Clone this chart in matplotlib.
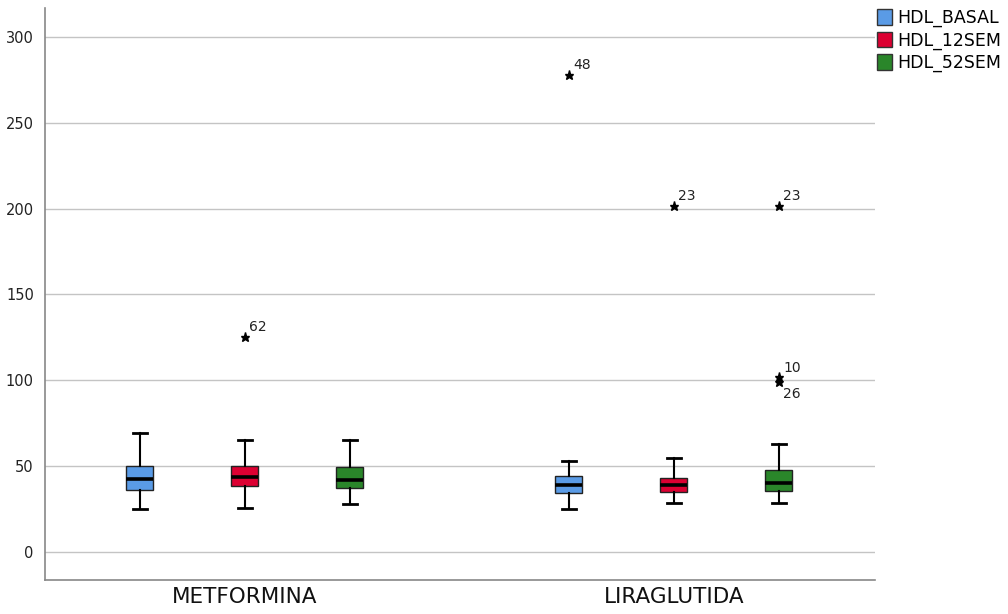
import matplotlib.pyplot as plt
from matplotlib.patches import Patch

groups = ["METFORMINA", "LIRAGLUTIDA"]
series = ["HDL_BASAL", "HDL_12SEM", "HDL_52SEM"]
colors = ["#5a9be6", "#dc0032", "#2a862a"]

# box stats per group, per series (BASAL, 12SEM, 52SEM)
whislo = [[25, 25.3, 28], [25, 28.2, 28.2]]
q1 = [[36, 38, 37], [34.3, 35, 35.4]]
med = [[42.3, 43.4, 42], [38.7, 39, 40]]
q3 = [[50, 50, 49.4], [44, 42.8, 47.7]]
whishi = [[69, 65, 65], [52.7, 54.5, 62.6]]

# outliers: (value, case label)
fliers = [
    [[], [(125, "62")], []],
    [[(278, "48")], [(201.4, "23")], [(201.4, "23"), (101.6, "10"), (99, "26")]],
]

offsets = [-0.245, 0, 0.245]

fig = plt.figure(figsize=(10.08, 6.14), dpi=100)
ax = fig.add_axes([0.0446, 0.0554, 0.8234, 0.9316])

for gi in range(len(groups)):
    for si in range(len(series)):
        pos = gi + 1 + offsets[si]
        stats = [{
            "whislo": whislo[gi][si], "q1": q1[gi][si], "med": med[gi][si],
            "q3": q3[gi][si], "whishi": whishi[gi][si], "fliers": [],
        }]
        ax.bxp(stats, positions=[pos], widths=0.063, capwidths=0.032,
               patch_artist=True, showfliers=False, manage_ticks=False,
               boxprops=dict(facecolor=colors[si], edgecolor="#222222", linewidth=1),
               medianprops=dict(color="black", linewidth=2.6),
               whiskerprops=dict(color="black", linewidth=1.5),
               capprops=dict(color="black", linewidth=2))
        for val, lab in fliers[gi][si]:
            ax.plot(pos, val, marker="*", color="black", markersize=6.5, linestyle="none")
            if lab == "26":
                ax.annotate(lab, (pos, val), xytext=(3, -4), textcoords="offset points",
                            ha="left", va="top", fontsize=10, color="#222222")
            else:
                ax.annotate(lab, (pos, val), xytext=(3, 2), textcoords="offset points",
                            ha="left", va="bottom", fontsize=10, color="#222222")

ax.set_xlim(0.534, 2.469)
ax.set_ylim(-16.6, 317)
ax.set_yticks([0, 50, 100, 150, 200, 250, 300])
ax.set_xticks([1, 2])
ax.set_xticklabels(groups, fontsize=15.5, color="#111111")
ax.tick_params(axis="y", length=0, labelsize=10.5, labelcolor="#222222", pad=8)
ax.tick_params(axis="x", length=0, pad=5)
ax.yaxis.grid(True, color="#c4c4c4", linewidth=1)
ax.set_axisbelow(True)
for s in ["top", "right"]:
    ax.spines[s].set_visible(False)
for s in ["left", "bottom"]:
    ax.spines[s].set_color("#888888")
    ax.spines[s].set_linewidth(1.2)

handles = [Patch(facecolor=c, edgecolor="#333333", label=n) for c, n in zip(colors, series)]
ax.legend(handles=handles, loc="upper left", bbox_to_anchor=(1.001, 1.0), frameon=False,
          fontsize=12.5, handlelength=0.9, handleheight=1.0, handletextpad=0.3,
          labelspacing=0.25, borderaxespad=0.0, borderpad=0.05)

fig.savefig("out.png", dpi=100)
